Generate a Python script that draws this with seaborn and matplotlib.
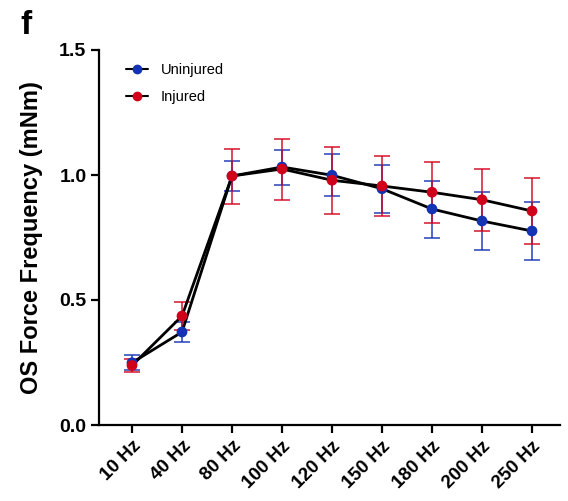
import matplotlib
matplotlib.use("Agg")
import matplotlib.pyplot as plt
import seaborn as sns
import pandas as pd
from matplotlib.lines import Line2D

freqs = ["10 Hz", "40 Hz", "80 Hz", "100 Hz", "120 Hz", "150 Hz", "180 Hz", "200 Hz", "250 Hz"]
uninjured_mean = [0.249, 0.372, 0.996, 1.032, 0.999, 0.945, 0.864, 0.816, 0.776]
uninjured_err = [0.030, 0.040, 0.060, 0.070, 0.084, 0.097, 0.114, 0.117, 0.115]
injured_mean = [0.238, 0.436, 0.996, 1.024, 0.979, 0.956, 0.931, 0.901, 0.856]
injured_err = [0.026, 0.056, 0.110, 0.122, 0.135, 0.120, 0.121, 0.125, 0.133]

blue = "#1432b4"
red = "#d0021b"

sns.set_theme(style="ticks")
plt.rcParams['font.family'] = ['Liberation Sans', 'DejaVu Sans']
plt.rcParams.update({"text.color": "black", "axes.labelcolor": "black",
                     "xtick.color": "black", "ytick.color": "black",
                     "axes.edgecolor": "black"})

df = pd.DataFrame({
    "freq": freqs * 2,
    "x": list(range(len(freqs))) * 2,
    "force": uninjured_mean + injured_mean,
    "err": uninjured_err + injured_err,
    "group": ["Uninjured"] * len(freqs) + ["Injured"] * len(freqs),
})

fig = plt.figure(figsize=(5.68, 5.01), dpi=100)
ax = fig.add_axes([99/568, 1 - 425/501, (560 - 99)/568, (425 - 50)/501])

palette = {"Uninjured": blue, "Injured": red}
for g in ["Uninjured", "Injured"]:
    sub = df[df.group == g]
    ax.errorbar(sub.x, sub.force, yerr=sub.err, fmt="none", ecolor=palette[g],
                elinewidth=1.2, capsize=6, capthick=1.2, alpha=0.85, zorder=2)

sns.lineplot(data=df, x="x", y="force", units="group", estimator=None,
             color="black", linewidth=2, ax=ax, zorder=3, legend=False)
sns.scatterplot(data=df, x="x", y="force", hue="group", palette=palette,
                s=60, edgecolor="none", ax=ax, zorder=4, legend=False)

handles = [Line2D([0], [0], color="black", lw=1.5, marker="o", markersize=6,
                  markerfacecolor=c, markeredgecolor=c) for c in (blue, red)]
ax.legend(handles, ["Uninjured", "Injured"], loc="upper left",
          bbox_to_anchor=(0.03, 1.0), frameon=False, fontsize=10.5,
          handlelength=1.5, handletextpad=0.9, labelspacing=0.9)

ax.set_xlim(-0.66, 8.56)
ax.set_ylim(0, 1.5)
ax.set_yticks([0, 0.5, 1.0, 1.5])
ax.set_yticklabels(["0.0", "0.5", "1.0", "1.5"], fontweight="bold", fontsize=14)
ax.set_xticks(range(len(freqs)))
ax.set_xticklabels(freqs, rotation=45, ha="right", rotation_mode="anchor",
                   fontweight="bold", fontsize=13.5)
ax.set_xlabel("")
ax.set_ylabel("OS Force Frequency (mNm)", fontweight="bold", fontsize=17, labelpad=12)

sns.despine(ax=ax)
for s in ["left", "bottom"]:
    ax.spines[s].set_linewidth(1.6)
ax.tick_params(axis="both", direction="out", length=6, width=1.6, pad=3)

fig.text(20/568, 1 - 25/501, "f", fontsize=24, fontweight="bold", va="center", ha="left")

fig.savefig("out.png", dpi=100)
